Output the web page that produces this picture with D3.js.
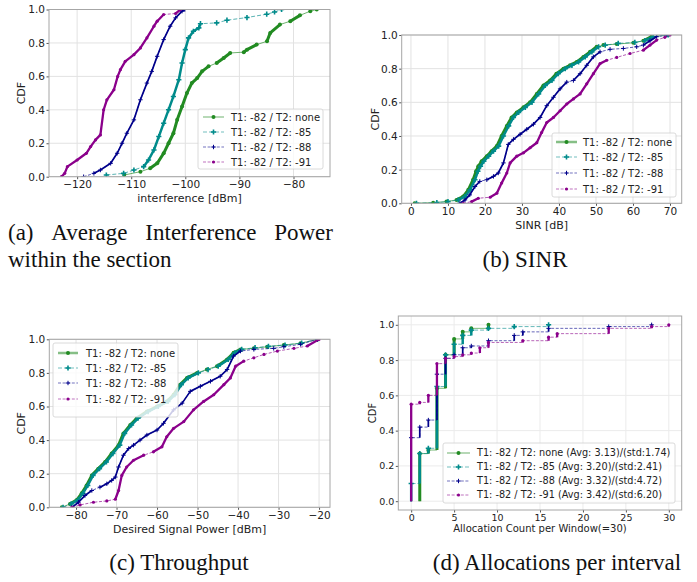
<!DOCTYPE html>
<html>
<head>
<meta charset="utf-8">
<script src="https://cdn.jsdelivr.net/npm/d3@7"></script>
<style>
  body { margin: 0; background: #fff; }
</style>
</head>
<body>
<div id="fig"></div>
<script>
// legend labels
var seriesLabels = ["T1: -82 / T2: none", "T1: -82 / T2: -85", "T1: -82 / T2: -88", "T1: -82 / T2: -91"];
var allocLabels = [
  "T1: -82 / T2: none (Avg: 3.13)/(std:1.74)",
  "T1: -82 / T2: -85 (Avg: 3.20)/(std:2.41)",
  "T1: -82 / T2: -88 (Avg: 3.32)/(std:4.72)",
  "T1: -82 / T2: -91 (Avg: 3.42)/(std:6.20)"
];

// (a) interference [dBm] vs CDF
var intfNone = [[-111.3,0.01],[-108.3,0.03],[-106.5,0.05],[-105.2,0.08],[-104,0.14],[-103.1,0.2],[-102.2,0.26],[-101.5,0.34],[-100.6,0.42],[-99.7,0.5],[-98.8,0.56],[-97.8,0.59],[-96.9,0.63],[-95.7,0.66],[-94.2,0.68],[-92.9,0.71],[-91.7,0.74],[-89.2,0.745],[-88.6,0.76],[-86.8,0.79],[-84.9,0.81],[-84.3,0.86],[-82.5,0.91],[-80.6,0.93],[-78.8,0.965],[-76.9,0.99],[-75.7,1.0]];
var intf85 = [[-114.6,0.01],[-111.4,0.02],[-109.5,0.04],[-107.7,0.06],[-106.8,0.1],[-105.8,0.16],[-104.9,0.24],[-104,0.32],[-103.1,0.4],[-102.2,0.48],[-101.2,0.58],[-100.6,0.68],[-100,0.76],[-99.4,0.83],[-98.5,0.87],[-97.5,0.89],[-97.2,0.915],[-94.2,0.92],[-92.3,0.936],[-88.6,0.952],[-84.95,0.972],[-83.5,0.985],[-82.2,1.0]];
var intf88 = [[-118.8,0.0],[-116.9,0.02],[-115.7,0.04],[-113.8,0.08],[-112.6,0.14],[-111.7,0.2],[-110.8,0.26],[-109.5,0.34],[-108.3,0.46],[-107.1,0.56],[-106.2,0.63],[-105.2,0.72],[-104,0.82],[-102.8,0.9],[-101.8,0.95],[-100.6,0.99],[-100.1,1.0]];
var intf91 = [[-122.9,0.0],[-122.3,0.02],[-121.8,0.06],[-120,0.1],[-118.3,0.14],[-117.5,0.18],[-116.6,0.22],[-115.7,0.25],[-115.1,0.4],[-114.5,0.46],[-113.2,0.52],[-112.5,0.6],[-112,0.64],[-111.1,0.69],[-109.5,0.73],[-108.3,0.77],[-107.1,0.83],[-105.8,0.9],[-105.2,0.93],[-104,0.97],[-101.8,0.976],[-100.9,1.0]];

// (b) SINR [dB] vs CDF
var sinrNone = [[1,0],[6,0.004],[9.6,0.01],[12.3,0.02],[14.1,0.04],[15.5,0.08],[16.8,0.14],[17.6,0.19],[18.2,0.22],[19.1,0.25],[20.5,0.28],[21.8,0.31],[23.2,0.34],[24.5,0.4],[25.9,0.46],[27.2,0.51],[28.6,0.54],[30.4,0.57],[32.2,0.6],[34,0.65],[35.8,0.7],[37.6,0.73],[39.3,0.77],[41.2,0.8],[43,0.82],[44.8,0.84],[46.6,0.87],[48.4,0.9],[50.2,0.93],[52,0.94],[55.6,0.946],[60.1,0.954],[62.8,0.966],[65,0.99],[69.5,1.0]];
var sinr85 = [[1.5,0],[7,0.004],[10,0.01],[12.8,0.02],[14.6,0.04],[16,0.08],[17.3,0.14],[18.1,0.19],[18.8,0.22],[19.7,0.25],[21,0.28],[22.3,0.31],[23.7,0.34],[25,0.4],[26.4,0.46],[27.7,0.51],[29.1,0.54],[30.9,0.57],[32.7,0.6],[34.5,0.65],[36.3,0.7],[38.1,0.73],[39.8,0.77],[41.7,0.8],[43.5,0.82],[45.3,0.84],[47.1,0.87],[48.9,0.9],[50.7,0.93],[52.5,0.94],[56,0.95],[60.5,0.956],[63.2,0.966],[65.5,0.99],[69.5,1.0]];
var sinr88 = [[13.2,0],[14.6,0.02],[15.9,0.05],[17.3,0.1],[18.6,0.13],[20.5,0.14],[22.3,0.16],[23.6,0.18],[25,0.24],[26.3,0.35],[27.7,0.38],[29.5,0.41],[31.3,0.44],[33.1,0.47],[34.9,0.51],[36.7,0.58],[38.5,0.63],[40.3,0.68],[42.1,0.72],[43.9,0.73],[45.7,0.77],[47.5,0.82],[49.3,0.87],[51.1,0.9],[53.8,0.915],[57.4,0.92],[61,0.93],[62.8,0.94],[64.6,0.966],[66.4,0.99],[69.1,1.0]];
var sinr91 = [[14.1,0],[16.4,0.01],[18.2,0.03],[21.4,0.036],[23.2,0.06],[24.5,0.12],[25.9,0.18],[26.8,0.24],[28.6,0.28],[30.4,0.3],[32.2,0.33],[34,0.36],[35.3,0.42],[36.7,0.48],[38.5,0.51],[40.3,0.55],[42.1,0.59],[43.9,0.62],[45.7,0.65],[47.5,0.71],[49.3,0.77],[51.1,0.83],[52.9,0.85],[55.6,0.867],[59.2,0.89],[62.8,0.91],[64.6,0.94],[66.4,0.97],[68.6,0.986],[70,1.0]];

// (c) desired signal power [dBm] vs CDF
var sigNone = [[-83.5,0],[-81.5,0.02],[-79.8,0.044],[-78.6,0.083],[-77.4,0.13],[-76.1,0.19],[-74.5,0.23],[-72.8,0.27],[-71.2,0.32],[-69.5,0.37],[-68.3,0.44],[-66.6,0.49],[-65,0.53],[-62.5,0.57],[-60,0.6],[-57.6,0.63],[-55.9,0.67],[-54.3,0.73],[-52.6,0.77],[-50.1,0.8],[-47.7,0.82],[-45.2,0.84],[-42.7,0.88],[-41.1,0.92],[-39.4,0.94],[-36.1,0.946],[-32.8,0.956],[-28.7,0.966],[-24.6,0.976],[-20.4,1.0]];
var sig85 = [[-83.2,0],[-81.2,0.02],[-79.5,0.044],[-78.3,0.083],[-77.1,0.13],[-75.8,0.19],[-74.2,0.23],[-72.5,0.27],[-70.9,0.32],[-69.2,0.37],[-68,0.44],[-66.3,0.49],[-64.7,0.53],[-62.2,0.57],[-59.7,0.6],[-57.3,0.63],[-55.6,0.67],[-54,0.73],[-52.3,0.77],[-49.8,0.8],[-47.4,0.82],[-44.9,0.84],[-42.4,0.88],[-40.8,0.92],[-39.1,0.94],[-35.8,0.95],[-32.5,0.958],[-28.4,0.966],[-24.3,0.978],[-20.4,1.0]];
var sig88 = [[-81,0],[-79.4,0.03],[-77.8,0.07],[-76.1,0.1],[-74.1,0.12],[-72.4,0.14],[-71.2,0.16],[-70.3,0.18],[-69.5,0.24],[-68.3,0.31],[-67,0.35],[-65.8,0.37],[-64.2,0.4],[-62.5,0.43],[-60,0.46],[-58.4,0.5],[-55.9,0.58],[-53.8,0.62],[-51.8,0.69],[-49.3,0.72],[-46.8,0.75],[-44.4,0.78],[-42.7,0.82],[-41.1,0.9],[-39.4,0.93],[-36.1,0.94],[-31.2,0.946],[-28.7,0.956],[-24.6,0.97],[-20.4,1.0]];
var sig91 = [[-81,0],[-79,0.014],[-75.7,0.03],[-72.4,0.038],[-70.3,0.048],[-69.5,0.1],[-68.7,0.19],[-67.5,0.24],[-65.8,0.28],[-63.3,0.31],[-60.9,0.33],[-58.8,0.36],[-57.6,0.42],[-55.9,0.47],[-53.4,0.51],[-51,0.58],[-48.5,0.63],[-46,0.67],[-43.5,0.73],[-41.9,0.77],[-40.6,0.84],[-38.6,0.87],[-36.1,0.89],[-33.6,0.91],[-30.3,0.93],[-26.2,0.946],[-22.9,0.96],[-20,1.0]];

// (d) allocation count -> CDF after the jump at that count
var allocNone = [[1,0.27],[2,0.29],[3,0.64],[4,0.83],[5,0.92],[6,0.96],[7,0.98],[9,1.0]];
var alloc85 = [[0,0.1],[1,0.27],[2,0.3],[3,0.65],[4,0.83],[5,0.89],[6,0.94],[7,0.97],[9,0.98],[12,0.99],[16,1.0]];
var alloc88 = [[0,0.36],[1,0.42],[2,0.46],[3,0.72],[4,0.81],[5,0.83],[6,0.87],[7,0.88],[9,0.91],[12,0.94],[13,0.96],[16,0.98],[23,0.99],[28,1.0]];
var alloc91 = [[0,0.55],[1,0.56],[2,0.6],[3,0.78],[4,0.81],[5,0.82],[6,0.83],[7,0.84],[8,0.87],[9,0.9],[13,0.91],[16,0.93],[17,0.95],[23,0.98],[28,0.99],[30,1.0]];

var W = 697, H = 582;
var colors = ["#228b22", "#008b8b", "#00008b", "#8b008b"];
var dashes = [null, "4,2", "3,1.6", "3,1.6"];
var thickW = [3, 2.5, 1.7, 2.3];
var N = 200; // approx samples per curve, used for marker density look

var svg = d3.select("#fig").append("svg")
  .attr("width", W).attr("height", H)
  .style("font-family", "'DejaVu Sans', sans-serif");

function marker(g, k, px, py) {
  var c = colors[k];
  if (k == 0) {
    g.append("circle").attr("cx", px).attr("cy", py).attr("r", 2).attr("fill", c);
  } else if (k == 1) {
    g.append("path").attr("d", `M${px-2.6},${py}H${px+2.6}M${px},${py-2.6}V${py+2.6}`)
      .attr("stroke", c).attr("stroke-width", 1.6);
  } else if (k == 2) {
    g.append("path").attr("d", `M${px-2.2},${py}H${px+2.2}M${px},${py-2.2}V${py+2.2}`)
      .attr("stroke", c).attr("stroke-width", 1);
  } else {
    g.append("circle").attr("cx", px).attr("cy", py).attr("r", 1.6).attr("fill", c);
  }
}

function thickPath(pts, x, y) {
  var d = "", on = false;
  for (var i = 1; i < pts.length; i++) {
    var x0 = x(pts[i-1][0]), y0 = y(pts[i-1][1]), x1 = x(pts[i][0]), y1 = y(pts[i][1]);
    var L = Math.hypot(x1 - x0, y1 - y0);
    var dens = (pts[i][1] - pts[i-1][1]) * N / Math.max(L, 0.1);
    if (dens > 0.5) {
      if (!on) d += "M" + x0 + "," + y0;
      d += "L" + x1 + "," + y1;
      on = true;
    } else on = false;
  }
  return d;
}

function drawPanel(p) {
  var x = d3.scaleLinear().domain(p.xDomain).range([p.left, p.right]);
  var y = d3.scaleLinear().domain(p.yDomain).range([p.bottom, p.top]);
  var g = svg.append("g");

  var clipId = "clip" + p.id;
  svg.append("clipPath").attr("id", clipId).append("rect")
    .attr("x", p.left).attr("y", p.top)
    .attr("width", p.right - p.left).attr("height", p.bottom - p.top);

  // grid
  g.append("g").selectAll("line").data(p.xTicks).join("line")
    .attr("x1", d => x(d)).attr("x2", d => x(d))
    .attr("y1", p.top).attr("y2", p.bottom)
    .attr("stroke", p.grid).attr("stroke-width", 1);
  g.append("g").selectAll("line").data(p.yTicks).join("line")
    .attr("x1", p.left).attr("x2", p.right)
    .attr("y1", d => y(d)).attr("y2", d => y(d))
    .attr("stroke", p.grid).attr("stroke-width", 1);

  // axes
  var xAxis = d3.axisBottom(x).tickValues(p.xTicks).tickSize(2.5).tickPadding(1.5).tickFormat(d3.format("d"));
  var yAxis = d3.axisLeft(y).tickValues(p.yTicks).tickSize(2.5).tickPadding(1.5).tickFormat(d3.format(".1f"));
  var ax = g.append("g").attr("transform", `translate(0,${p.bottom})`).call(xAxis);
  var ay = g.append("g").attr("transform", `translate(${p.left},0)`).call(yAxis);
  [ax, ay].forEach(function(a) {
    a.select(".domain").remove();
    a.selectAll("line").attr("stroke", "#555");
    a.selectAll("text").attr("fill", "#222").style("font-size", p.tickFont + "px")
      .style("font-family", "'DejaVu Sans', sans-serif");
  });

  // data
  var lg = g.append("g").attr("clip-path", `url(#${clipId})`);
  p.series.forEach(function(pts, k) {
    if (p.step) {
      var full = [[pts[0][0], 0]].concat(pts);
      lg.append("path").datum(full)
        .attr("d", d3.line().x(d => x(d[0])).y(d => y(d[1])).curve(d3.curveStepAfter))
        .attr("fill", "none").attr("stroke", colors[k]).attr("stroke-width", 1)
        .attr("stroke-opacity", 0.6).attr("stroke-dasharray", dashes[k]);
      full.forEach(function(d, i) {
        if (i == 0) return;
        lg.append("line")
          .attr("x1", x(d[0])).attr("x2", x(d[0]))
          .attr("y1", y(full[i-1][1])).attr("y2", y(d[1]))
          .attr("stroke", colors[k]).attr("stroke-width", thickW[k]);
        marker(lg, k, x(d[0]), y(d[1]));
      });
    } else {
      lg.append("path").datum(pts)
        .attr("d", d3.line().x(d => x(d[0])).y(d => y(d[1])))
        .attr("fill", "none").attr("stroke", colors[k]).attr("stroke-width", 1)
        .attr("stroke-opacity", 0.65).attr("stroke-dasharray", dashes[k]);
      lg.append("path").attr("d", thickPath(pts, x, y))
        .attr("fill", "none").attr("stroke", colors[k])
        .attr("stroke-width", thickW[k]).attr("stroke-linejoin", "round");
      pts.forEach(function(d) { marker(lg, k, x(d[0]), y(d[1])); });
    }
  });

  // frame
  g.append("rect").attr("x", p.left).attr("y", p.top)
    .attr("width", p.right - p.left).attr("height", p.bottom - p.top)
    .attr("fill", "none").attr("stroke", "#a6a6a6").attr("stroke-width", 1);

  // axis labels
  g.append("text").attr("x", (p.left + p.right) / 2).attr("y", p.xLabelY)
    .attr("text-anchor", "middle").attr("fill", "#222")
    .style("font-size", p.labelFont + "px").text(p.xLabel);
  g.append("text")
    .attr("transform", `translate(${p.yLabelX},${(p.top + p.bottom) / 2}) rotate(-90)`)
    .attr("text-anchor", "middle").attr("fill", "#222")
    .style("font-size", p.labelFont + "px").text("CDF");

  // legend
  var L = p.legend;
  var leg = g.append("g");
  leg.append("rect").attr("x", L.x).attr("y", L.y).attr("width", L.w).attr("height", L.h)
    .attr("rx", 2).attr("fill", "#fff").attr("fill-opacity", 0.8)
    .attr("stroke", "#d0d0d0").attr("stroke-width", 0.8);
  L.labels.forEach(function(t, k) {
    var ry = L.rows[k];
    leg.append("line").attr("x1", L.lx0).attr("x2", L.lx1).attr("y1", ry).attr("y2", ry)
      .attr("stroke", colors[k]).attr("stroke-opacity", 0.55)
      .attr("stroke-width", k == 0 ? L.greenW : 1)
      .attr("stroke-dasharray", dashes[k]);
    marker(leg, k, (L.lx0 + L.lx1) / 2, ry);
    leg.append("text").attr("x", L.tx).attr("y", ry).attr("dy", "0.35em")
      .attr("fill", "#222").style("font-size", L.font + "px").text(t);
  });
}

// (a)
drawPanel({
  id: "a", left: 49, right: 330, top: 9.5, bottom: 176.7,
  xDomain: [-125.2, -73.25], yDomain: [0, 1],
  xTicks: [-120, -110, -100, -90, -80], yTicks: [0, 0.2, 0.4, 0.6, 0.8, 1.0],
  grid: "#e2e2e2", tickFont: 10.5, labelFont: 11,
  xLabel: "interference [dBm]", xLabelY: 202, yLabelX: 25,
  series: [intfNone, intf85, intf88, intf91],
  legend: { x: 198, y: 109, w: 125, h: 60, rows: [117, 132, 147, 162],
    lx0: 203, lx1: 224, tx: 231, font: 10, greenW: 1.2, labels: seriesLabels }
});

// (b)
drawPanel({
  id: "b", left: 401.7, right: 681.7, top: 35, bottom: 203.3,
  xDomain: [-2.5, 73.16], yDomain: [0, 1],
  xTicks: [0, 10, 20, 30, 40, 50, 60, 70], yTicks: [0, 0.2, 0.4, 0.6, 0.8, 1.0],
  grid: "#e2e2e2", tickFont: 10.5, labelFont: 11,
  xLabel: "SINR [dB]", xLabelY: 229, yLabelX: 379,
  series: [sinrNone, sinr85, sinr88, sinr91],
  legend: { x: 552, y: 133, w: 124, h: 64, rows: [142, 157, 173, 189],
    lx0: 556, lx1: 577, tx: 583, font: 10, greenW: 2.5, labels: seriesLabels }
});

// (c)
drawPanel({
  id: "c", left: 49.3, right: 330, top: 339.3, bottom: 507.3,
  xDomain: [-86.6, -17.3], yDomain: [0, 1],
  xTicks: [-80, -70, -60, -50, -40, -30, -20], yTicks: [0, 0.2, 0.4, 0.6, 0.8, 1.0],
  grid: "#e2e2e2", tickFont: 10.5, labelFont: 11,
  xLabel: "Desired Signal Power [dBm]", xLabelY: 532.5, yLabelX: 25,
  series: [sigNone, sig85, sig88, sig91],
  legend: { x: 53, y: 343, w: 125, h: 74, rows: [353, 368, 383, 399],
    lx0: 58, lx1: 78, tx: 86, font: 10, greenW: 2.5, labels: seriesLabels }
});

// (d)
drawPanel({
  id: "d", left: 398.3, right: 681.7, top: 316, bottom: 510, step: true,
  xDomain: [-1.5, 31.5], yDomain: [-0.05, 1.05],
  xTicks: [0, 5, 10, 15, 20, 25, 30], yTicks: [0, 0.2, 0.4, 0.6, 0.8, 1.0],
  grid: "#ebebeb", tickFont: 9.5, labelFont: 10,
  xLabel: "Allocation Count per Window(=30)", xLabelY: 532, yLabelX: 376,
  series: [allocNone, alloc85, alloc88, alloc91],
  legend: { x: 443, y: 443, w: 232, h: 60, rows: [453, 467, 481, 495],
    lx0: 447, lx1: 470, tx: 477, font: 9.7, greenW: 1.2, labels: allocLabels }
});

// captions
var cap = svg.append("g").style("font-family", "'Liberation Serif', 'Times New Roman', serif")
  .style("font-size", "23px").attr("fill", "#111");

function justified(words, x0, x1, yb) {
  var nodes = words.map(w => cap.append("text").attr("y", yb).text(w));
  var widths = nodes.map(n => n.node().getComputedTextLength());
  var gap = (x1 - x0 - d3.sum(widths)) / (words.length - 1);
  var cx = x0;
  nodes.forEach(function(n, i) { n.attr("x", cx); cx += widths[i] + gap; });
}
justified(["(a)", "Average", "Interference", "Power"], 8, 333, 240);
cap.append("text").attr("x", 8).attr("y", 267).text("within the section");
cap.append("text").attr("x", 525).attr("y", 267).attr("text-anchor", "middle").text("(b) SINR");
cap.append("text").attr("x", 179).attr("y", 570).attr("text-anchor", "middle").text("(c) Throughput");
cap.append("text").attr("x", 557).attr("y", 570).attr("text-anchor", "middle").text("(d) Allocations per interval");
</script>
</body>
</html>
